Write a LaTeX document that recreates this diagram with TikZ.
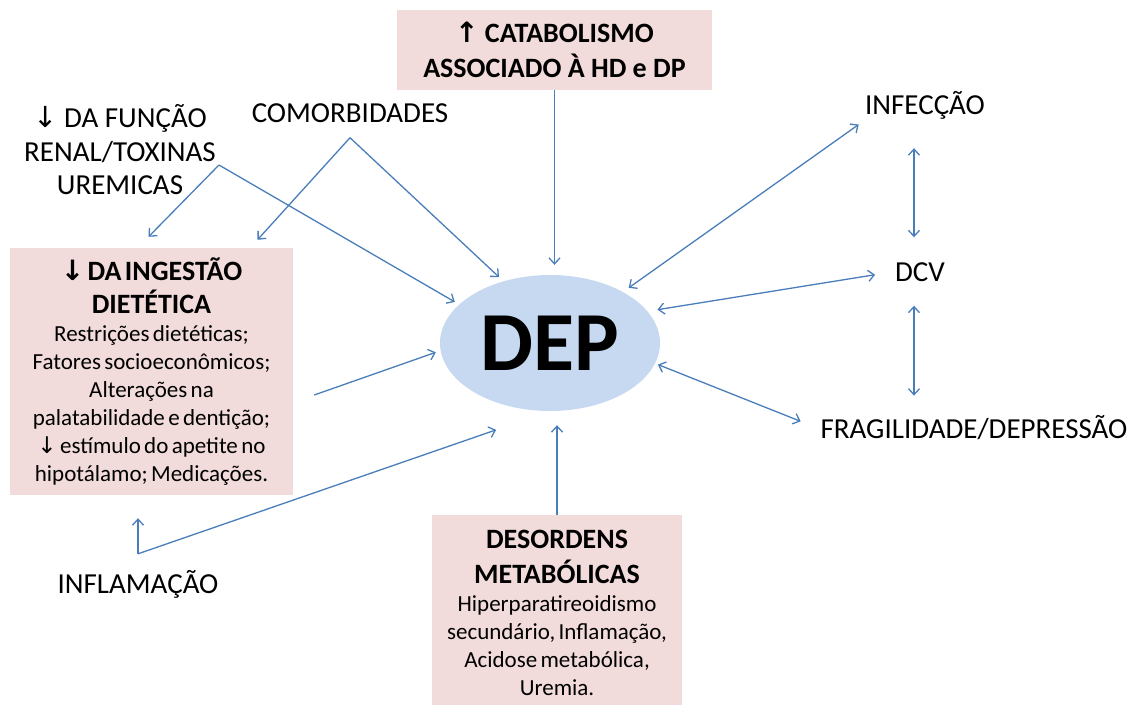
\documentclass[tikz,border=0pt]{standalone}
\usepackage{fontspec}
\setmainfont{Carlito}
\newfontfamily\arrowfont{DejaVu Sans}
\usetikzlibrary{shapes.geometric,arrows.meta}
\definecolor{boxpink}{HTML}{F2DCDB}
\definecolor{depblue}{HTML}{C6D9F1}
\definecolor{linkblue}{HTML}{4A7EBB}
\newcommand{\arrdn}{{\arrowfont ↓}}
\newcommand{\arrup}{{\arrowfont ↑}}
\tikzset{
  >={Straight Barb[length=6pt,width=11pt]},
  cause/.style={fill=boxpink, align=center, inner sep=4pt},
  factor/.style={align=center, inner sep=3pt, font=\fontsize{29}{33.5}\selectfont},
  link/.style={draw=linkblue, line width=1.3pt, ->},
  link2/.style={draw=linkblue, line width=1.3pt, <->}
}
\begin{document}
\begin{tikzpicture}[x=1pt,y=-1pt]
\useasboundingbox (0,0) rectangle (1140,704);
\node[ellipse, fill=depblue, inner sep=0pt, minimum width=220pt, minimum height=136pt, font=\fontsize{84}{84}\selectfont\bfseries] (dep) at (550,343) {DEP};
\node[cause, minimum width=315pt, minimum height=80pt, font=\fontsize{28}{35}\selectfont\bfseries] (cat) at (554.5,50) {\arrup\ CATABOLISMO\\ ASSOCIADO À HD e DP};
\node[cause, text width=272pt, minimum width=283pt, minimum height=247pt] (ing) at (151.5,371.5) {%
  {\fontsize{28}{33}\selectfont\bfseries \arrdn\ DA INGESTÃO\\ DIETÉTICA\par}
  {\fontsize{23}{28}\selectfont Restrições dietéticas;\\ Fatores socioeconômicos;\\ Alterações na\\ palatabilidade e dentição;\\ \arrdn\ estímulo do apetite no\\ hipotálamo; Medicações.\par}};
\node[cause, anchor=north, text width=240pt, minimum width=250pt, minimum height=195pt] (des) at (557,515) {%
  {\fontsize{28}{35}\selectfont\bfseries DESORDENS\\ METABÓLICAS\par}
  {\fontsize{23}{28}\selectfont Hiperparatireoidismo\\ secundário, Inflamação,\\ Acidose metabólica,\\ Uremia.\par}};
\node[factor] (renal) at (120,150) {\arrdn\ DA FUNÇÃO\\ RENAL/TOXINAS\\ UREMICAS};
\node[factor] (comorb) at (350,113) {COMORBIDADES};
\node[factor] (inf) at (925,105) {INFECÇÃO};
\node[factor] (dcv) at (920,272) {DCV};
\node[factor] (frag) at (974,428) {FRAGILIDADE/DEPRESSÃO};
\node[factor] (infl) at (138,584) {INFLAMAÇÃO};
\coordinate (rn) at ([shift={(0,15)}]renal.east);
\coordinate (cm) at ([shift={(0,12)}]comorb.south);
\coordinate (fl) at ([shift={(0,-13)}]infl.north);
\draw[link] (rn) -- ([shift={(-3,-11)}]ing.north);
\draw[link, shorten >=5pt] (rn) -- (dep.157);
\draw[link] (cm) -- ([shift={(106,-8)}]ing.north);
\draw[link, shorten >=6pt] (cm) -- (dep.127);
\draw[link, shorten >=10pt] (cat.south) -- (cat.south |- dep.north);
\draw[link, shorten >=5pt] ([shift={(21,23.5)}]ing.east) -- (dep.184);
\draw[link, shorten >=23pt] (fl) -- (fl |- ing.south);
\draw[link, shorten >=57pt] (fl) -- (dep.south);
\draw[link, shorten >=14pt] (des.north) -- (des.north |- dep.south);
\draw[link2, shorten <=7pt, shorten >=4pt] (dep.35) -- (inf.south west);
\draw[link2, shorten <=10pt, shorten >=17pt] (dep.18) -- (dcv.west);
\draw[link2, shorten <=3pt, shorten >=18pt] (dep.349) -- (frag.west);
\draw[link2, shorten <=26pt, shorten >=22pt] ([xshift=-6pt]dcv.north |- inf.south) -- ([xshift=-6pt]dcv.north);
\draw[link2, shorten <=21pt, shorten >=17pt] ([xshift=-6pt]dcv.south) -- ([xshift=-6pt]dcv.south |- frag.north);
\end{tikzpicture}
\end{document}
